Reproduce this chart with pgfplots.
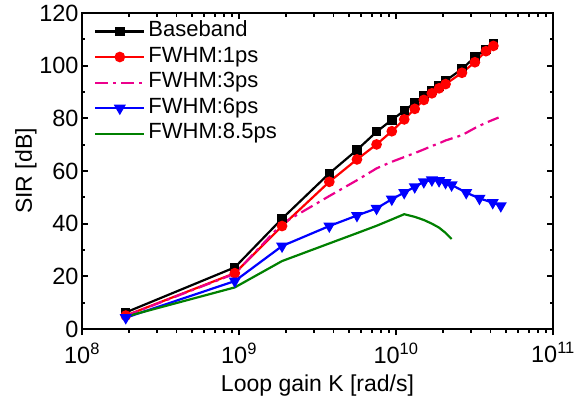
\documentclass[border=0pt]{standalone}
\usepackage{fontspec}
\setmainfont{Liberation Sans}
\usepackage{pgfplots}
\pgfplotsset{compat=1.18}
\definecolor{ogreen}{RGB}{0,128,0}
\begin{document}
\begin{tikzpicture}
\begin{axis}[name=ax, at={(0,0)}, anchor=south west,
  scale only axis, width=471pt, height=316pt,
  xmode=log, xmin=1e8, xmax=1e11, ymin=0, ymax=120,
  xtick={1e8,1e9,1e10,1e11},
  xticklabels={10\textsuperscript{8},10\textsuperscript{9},10\textsuperscript{10},10\textsuperscript{11}},
  ytick={0,20,...,120}, minor y tick num=1,
  xtick pos=left, xtick align=outside,
  ytick pos=both, ytick align=inside,
  major tick length=6pt, minor tick length=3.5pt,
  every tick/.style={black, line width=1.8pt},
  axis line style={line width=2.2pt},
  tick label style={font=\fontsize{23.5}{23.5}\selectfont, /pgf/number format/assume math mode=true},
  xticklabel style={yshift=-4pt},
  label style={font=\fontsize{23}{23}\selectfont},
  xlabel={Loop gain K [rad/s]}, ylabel={SIR [dB]},
  xlabel style={at={(axis description cs:0.5,-0.178)}, anchor=center},
  ylabel style={at={(axis description cs:-0.119,0.5)}, anchor=center},
  legend style={draw=none, fill=none, at={(axis description cs:0,1)}, anchor=north west,
    xshift=12pt, yshift=-6.2pt,
    font=\fontsize{22}{22}\selectfont, row sep=1.6pt, column sep=1pt, inner sep=0pt,
    nodes={inner sep=2pt, text height=15pt, text depth=5pt}},
  legend cell align=left,
  legend image code/.code={\draw[mark repeat=2,mark phase=2] plot coordinates {(0pt,0pt) (24.5pt,0pt) (49pt,0pt)};},
]
\addplot[black, line width=2.2pt, mark=square*, mark size=3.6pt, mark options={solid}] coordinates {
(1.9e8,6.3) (9.4e8,23.4) (1.88e9,41.9) (3.76e9,59.1) (5.64e9,68.0) (7.52e9,74.9) (9.4e9,79.4)
(1.128e10,82.9) (1.316e10,85.9) (1.504e10,88.5) (1.692e10,90.5) (1.88e10,92.3) (2.068e10,94.3)
(2.63e10,98.7) (3.18e10,103.3) (3.74e10,106.2) (4.17e10,108.3)};
\addlegendentry{Baseband}
\addplot[red, line width=2.2pt, mark=*, mark size=4.2pt, mark options={solid}] coordinates {
(1.9e8,5.1) (9.4e8,21.2) (1.88e9,39.1) (3.76e9,55.9) (5.64e9,64.4) (7.52e9,70.1) (9.4e9,75.1)
(1.128e10,79.6) (1.316e10,83.6) (1.504e10,87.0) (1.692e10,89.5) (1.88e10,91.4) (2.068e10,93.0)
(2.63e10,97.3) (3.18e10,101.3) (3.74e10,105.5) (4.17e10,107.5)};
\addlegendentry{FWHM:1ps}
\addplot[magenta, line width=2.2pt, dash pattern=on 13pt off 5pt on 3pt off 5pt] coordinates {
(1.9e8,5.0) (9.4e8,21.0) (1.88e9,40.0) (3.76e9,50.5) (5.64e9,56.5) (7.52e9,61.0) (9.4e9,63.5)
(1.128e10,65.3) (1.316e10,66.8) (1.504e10,68.2) (1.692e10,69.5) (1.88e10,70.5) (2.068e10,71.6)
(2.63e10,73.6) (3.2e10,76.4) (3.76e10,78.4) (4.5e10,80.3)};
\addlegendentry{FWHM:3ps}
\addplot[blue, line width=2.2pt, mark=triangle*, mark size=4.8pt, mark options={solid, rotate=180}] coordinates {
(1.9e8,4.3) (9.4e8,18.2) (1.88e9,31.5) (3.76e9,39.1) (5.64e9,43.1) (7.52e9,45.8) (9.4e9,49.3)
(1.128e10,51.8) (1.316e10,54.0) (1.504e10,55.9) (1.692e10,56.6) (1.88e10,56.3) (2.068e10,55.6)
(2.26e10,54.7) (2.8e10,51.8) (3.4e10,49.6) (4.13e10,48.0) (4.65e10,46.8)};
\addlegendentry{FWHM:6ps}
\addplot[ogreen, line width=2.2pt] coordinates {
(1.9e8,4.7) (9.4e8,15.8) (1.88e9,25.8) (3.76e9,32.5) (5.64e9,36.4) (7.52e9,39.2) (9.4e9,41.6)
(1.128e10,43.6) (1.316e10,42.6) (1.504e10,41.4) (1.692e10,40.0) (1.88e10,38.5) (2.068e10,36.5)
(2.26e10,34.2)};
\addlegendentry{FWHM:8.5ps}
\end{axis}
\begin{axis}[at={(ax.south west)}, anchor=south west,
  scale only axis, width=471pt, height=316pt,
  xmode=log, xmin=1e8, xmax=1e11, ymin=0, ymax=120,
  xtick={1e8,1e9,1e10,1e11}, xticklabels={,,,},
  ytick=\empty,
  xtick pos=right, xtick align=inside,
  major tick length=6pt, minor tick length=3.5pt,
  every tick/.style={black, line width=1.8pt},
  axis line style={line width=2.2pt},
]
\end{axis}
\pgfresetboundingbox
\useasboundingbox ([shift={(-82pt,-71pt)}]ax.south west) rectangle ([shift={(34pt,13pt)}]ax.north east);
\end{tikzpicture}
\end{document}
